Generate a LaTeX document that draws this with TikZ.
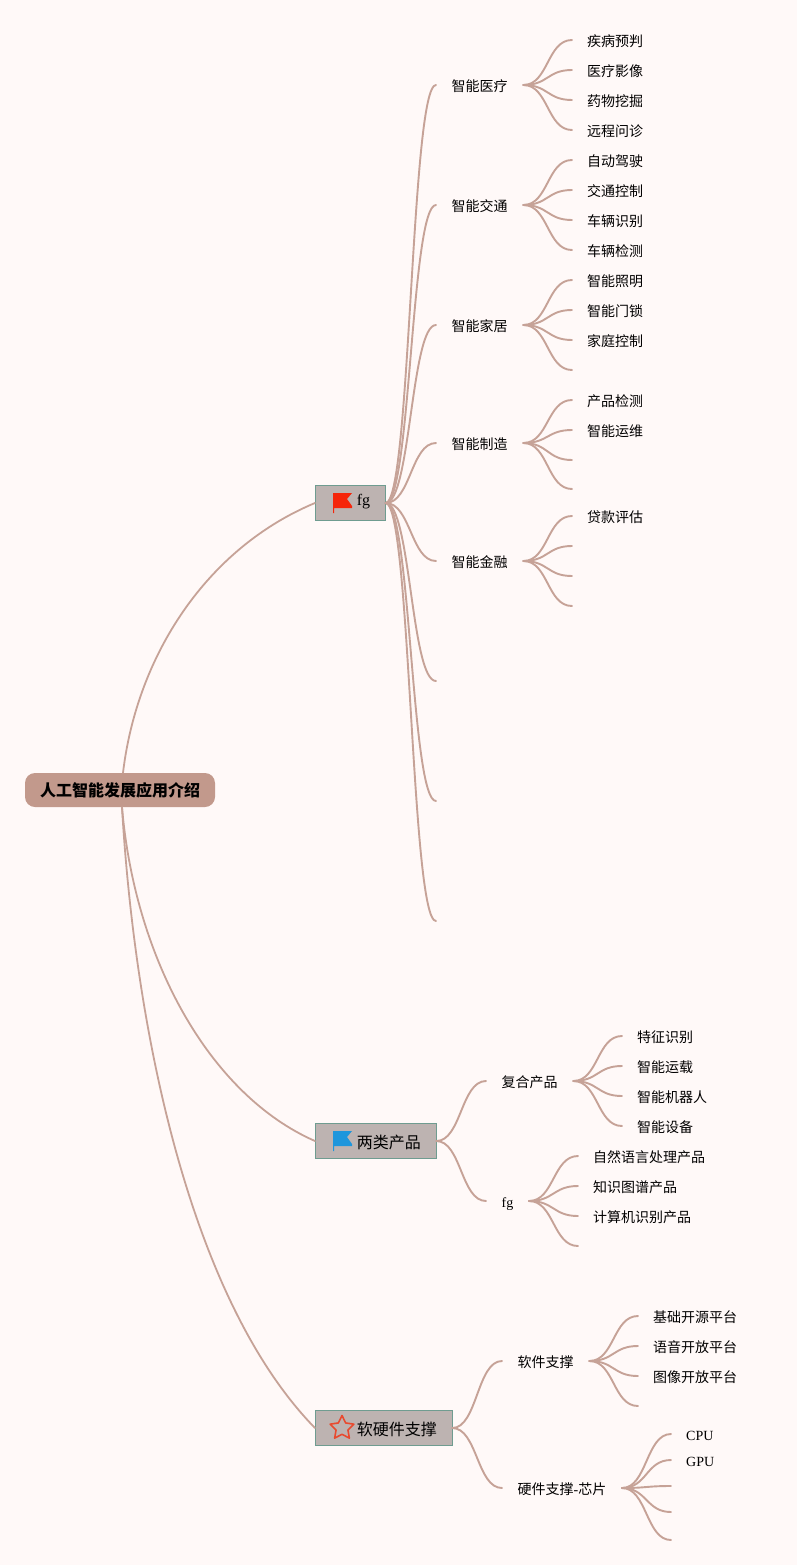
\documentclass[tikz,border=0pt]{standalone}
\usepackage{fontspec}
\setmainfont{Noto Sans CJK SC}
\newfontfamily\latin{Liberation Serif}
\usetikzlibrary{shapes.geometric}
\definecolor{pagebg}{HTML}{FFF9F8}
\definecolor{linkcol}{HTML}{C6A297}
\definecolor{rootcol}{HTML}{C2998C}
\definecolor{boxcol}{HTML}{BDB3B1}
\definecolor{boxline}{HTML}{6F9C90}
\definecolor{flagred}{HTML}{F5250A}
\definecolor{flagblue}{HTML}{1E96DC}
\definecolor{starred}{HTML}{E84A2F}
\tikzset{
  flagicon/.pic={
    \fill[#1] (-9,-10) -- (10,-10) -- (5,-4) -- (10,3) -- (10,5) -- (-8,5) -- (-8,10) -- (-9,10) -- cycle;
  }
}
\begin{document}
\begin{tikzpicture}[
  x=1pt, y=-1pt,
  rootnode/.style={draw=none, fill=rootcol, rounded corners=10pt, minimum width=190pt, minimum height=34pt, inner sep=0pt, font=\fontsize{16}{16}\selectfont\bfseries},
  major/.style={draw=boxline, fill=boxcol, line width=.8pt, anchor=west, minimum height=35.5pt, inner ysep=0pt, inner xsep=15pt, text height=16pt, text depth=2pt, font=\fontsize{16}{16}\selectfont},
  sub/.style={anchor=west, inner xsep=15.5pt, inner ysep=0pt, text height=14.2pt, text depth=1.6pt, font=\fontsize{14}{14}\selectfont},
  leaf/.style={anchor=west, inner xsep=15pt, inner ysep=0pt, text height=14.2pt, text depth=1.6pt, font=\fontsize{14}{14}\selectfont},
  link/.style={draw=linkcol, line width=1.9pt, line cap=round, out=0, in=180, out distance=25pt, in distance=25pt},
  trunk/.style={draw=linkcol, line width=1.8pt, line cap=round}
]
\useasboundingbox (0,0) rectangle (797,1565);
\fill[pagebg] (0,0) rectangle (797,1565);

\node[rootnode] (root) at (120,790) {人工智能发展应用介绍};
\node[major, text height=8pt, text depth=4pt] (fgbox) at (315,503) {\hspace{26.5pt}{\latin fg}};
\node[major] (twobox) at (315,1141) {\hspace{26.5pt}两类产品};
\node[major] (softbox) at (315,1428) {\hspace{26.5pt}软硬件支撑};
\pic at (342,503) {flagicon=flagred};
\pic at (342,1141) {flagicon=flagblue};
\node[star, star points=5, star point ratio=2, minimum size=25pt, inner sep=0pt, draw=starred, line width=1.6pt, line join=round] (softstar) at (342,1428) {};

% second level
\foreach \name/\x/\y/\txt in {
  medical/436/85/智能医疗, traffic/436/205/智能交通, home/436/325/智能家居,
  making/436/443/智能制造, finance/436/561/智能金融,
  compound/486/1081/复合产品, fgsub/486/1201/{\latin fg},
  softsup/502/1361/软件支撑, hardsup/502/1488/硬件支撑{\latin -}芯片}
  \node[sub] (\name) at (\x,\y) {\txt};

% third level
\foreach \name/\x/\y/\txt in {
  med1/572/40/疾病预判, med2/572/70/医疗影像, med3/572/100/药物挖掘, med4/572/130/远程问诊,
  tra1/572/160/自动驾驶, tra2/572/190/交通控制, tra3/572/220/车辆识别, tra4/572/250/车辆检测,
  hom1/572/280/智能照明, hom2/572/310/智能门锁, hom3/572/340/家庭控制,
  mak1/572/400/产品检测, mak2/572/430/智能运维,
  fin1/572/516/贷款评估,
  com1/622/1036/特征识别, com2/622/1066/智能运载, com3/622/1096/智能机器人, com4/622/1126/智能设备,
  fgs1/578/1156/自然语言处理产品, fgs2/578/1186/知识图谱产品, fgs3/578/1216/计算机识别产品,
  sof1/638/1316/基础开源平台, sof2/638/1346/语音开放平台, sof3/638/1376/图像开放平台,
  har1/671/1434/{\latin CPU}, har2/671/1460/{\latin GPU}}
  \node[leaf] (\name) at (\x,\y) {\txt};

% free ends
\foreach \name/\x/\y in {
  hom4/572/370, mak3/572/460, mak4/572/489, fin2/572/546, fin3/572/576, fin4/572/606,
  fgx6/436/681, fgx7/436/801, fgx8/436/921, fgs4/578/1246, sof4/638/1406,
  har3/671/1486, har4/671/1512, har5/671/1540}
  \coordinate (\name) at (\x,\y);

\draw[trunk] (root.north) ++(3,0) .. controls (137,655) and (207,548) .. (fgbox.west);
\draw[trunk] (root.south) ++(2,0) .. controls (135,960) and (210,1095) .. (twobox.west);
\draw[trunk] (root.south) ++(2,0) .. controls (135,1030) and (190,1300) .. (softbox.west);

\foreach \from/\to in {
  fgbox/medical, fgbox/traffic, fgbox/home, fgbox/making, fgbox/finance,
  twobox/compound, twobox/fgsub, softbox/softsup, softbox/hardsup,
  medical/med1, medical/med2, medical/med3, medical/med4,
  traffic/tra1, traffic/tra2, traffic/tra3, traffic/tra4,
  home/hom1, home/hom2, home/hom3, making/mak1, making/mak2, finance/fin1,
  compound/com1, compound/com2, compound/com3, compound/com4,
  fgsub/fgs1, fgsub/fgs2, fgsub/fgs3,
  softsup/sof1, softsup/sof2, softsup/sof3,
  hardsup/har1, hardsup/har2}
  \draw[link] (\from.east) to (\to.west);

\foreach \from/\to in {
  home/hom4, making/mak3, making/mak4, finance/fin2, finance/fin3, finance/fin4,
  fgbox/fgx6, fgbox/fgx7, fgbox/fgx8, fgsub/fgs4, softsup/sof4,
  hardsup/har3, hardsup/har4, hardsup/har5}
  \draw[link] (\from.east) to (\to);
\end{tikzpicture}
\end{document}
